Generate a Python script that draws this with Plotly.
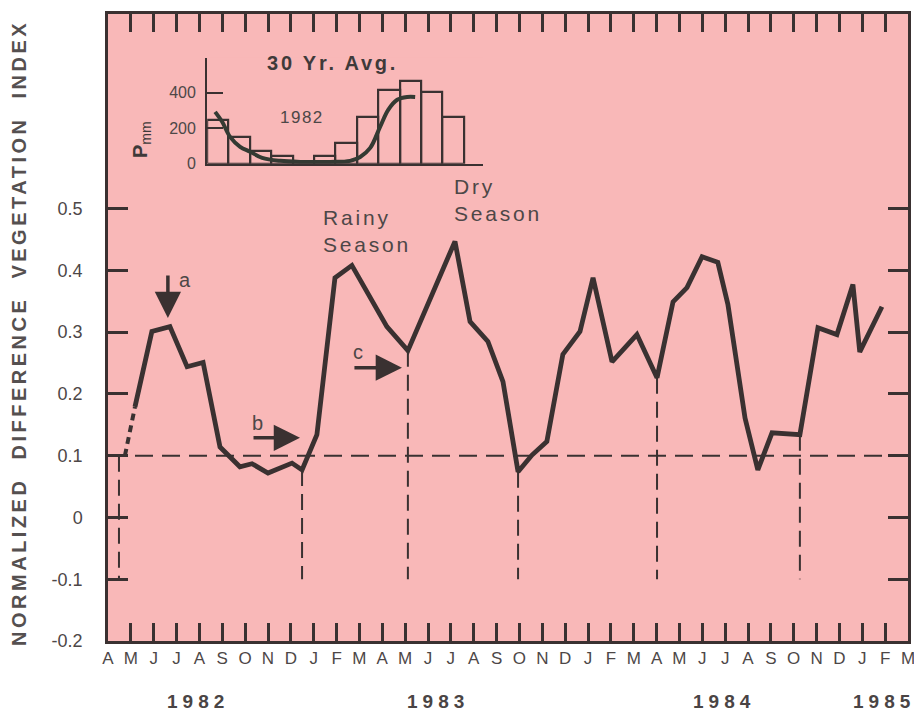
import plotly.graph_objects as go

# ---------------- data ----------------
month_labels = ["A", "M", "J", "J", "A", "S", "O", "N", "D",
                "J", "F", "M", "A", "M", "J", "J", "A", "S", "O", "N", "D",
                "J", "F", "M", "A", "M", "J", "J", "A", "S", "O", "N", "D",
                "J", "F", "M"]
month_pos = list(range(len(month_labels)))          # 0 = April 1982
year_labels = ["1982", "1983", "1984", "1985"]
year_pos = [3.94, 14.44, 26.95, 33.95]

ytick_vals = [-0.2, -0.1, 0, 0.1, 0.2, 0.3, 0.4, 0.5]
ytick_text = ["-0.2", "-0.1", "0", "0.1", "0.2", "0.3", "0.4", "0.5"]

ndvi_months = [1.18, 1.92, 2.71, 3.46, 4.16, 4.90, 5.77, 6.30, 7.00, 8.05,
               8.49, 9.14, 9.93, 10.67, 12.20, 13.12, 15.18, 15.84, 16.62, 17.28,
               17.94, 18.55, 19.20, 19.90, 20.65, 21.22, 22.05, 23.14, 24.02, 24.72,
               25.33, 25.99, 26.68, 27.12, 27.87, 28.43, 29.05, 30.27, 31.06, 31.89,
               32.59, 32.89, 33.86]
ndvi_values = [0.179, 0.301, 0.309, 0.244, 0.251, 0.114, 0.082, 0.087, 0.072, 0.088,
               0.077, 0.134, 0.388, 0.408, 0.309, 0.270, 0.447, 0.317, 0.285, 0.220,
               0.074, 0.101, 0.123, 0.264, 0.301, 0.388, 0.252, 0.296, 0.226, 0.349,
               0.372, 0.422, 0.413, 0.345, 0.161, 0.077, 0.137, 0.134, 0.307, 0.296,
               0.377, 0.268, 0.341]

gap_months = [0.74, 1.18]       # dashed (missing-data) start of the series
gap_values = [0.10, 0.179]

drop_months = [0.48, 8.49, 13.12, 17.94, 24.02, 30.27]
drop_tops = [0.10, 0.077, 0.270, 0.074, 0.226, 0.134]
drop_bottom = -0.1
threshold = 0.1

# inset: 30-yr average monthly precipitation (bars) and 1982 curve
inset_months = [0.5, 1.5, 2.5, 3.5, 4.5, 5.5, 6.5, 7.5, 8.5, 9.5, 10.5, 11.5]
avg_precip = [248, 152, 73, 45, 12, 45, 118, 265, 417, 468, 405, 265]
curve_months = [0.37, 0.70, 1.07, 1.54, 2.01, 2.57, 3.41, 4.35, 5.75, 6.68,
                7.15, 7.62, 8.08, 8.46, 8.88, 9.35, 9.72]
curve_precip = [293, 237, 152, 96, 68, 34, 17, 11, 11, 17,
                39, 90, 208, 304, 361, 377, 377]
inset_ticks = [0, 200, 400]

# ---------------- style ----------------
INK = "#3a3131"
TEXT = "#4d4747"
PINK = "#F9B8B8"
FONT = "Liberation Sans, Arial, Helvetica, sans-serif"


def spaced(t, px):
    return f'<span style="letter-spacing:{px}px">{t}</span>'


fig = go.Figure()

# vertical drop lines
dx, dy = [], []
for m, top in zip(drop_months, drop_tops):
    dx += [m, m, None]
    dy += [top, drop_bottom, None]
fig.add_trace(go.Scatter(x=dx, y=dy, mode="lines",
                         line=dict(color=INK, width=2, dash="16px,8px"),
                         hoverinfo="skip", showlegend=False))

# dashed start
fig.add_trace(go.Scatter(x=gap_months, y=gap_values, mode="lines",
                         line=dict(color=INK, width=4, dash="7px,5px"),
                         showlegend=False))
# main NDVI series
fig.add_trace(go.Scatter(x=ndvi_months, y=ndvi_values, mode="lines",
                         line=dict(color=INK, width=4.8),
                         showlegend=False))

# inset bars
fig.add_trace(go.Bar(x=inset_months, y=avg_precip, width=1.0,
                     marker=dict(color="rgba(0,0,0,0)",
                                 line=dict(color=INK, width=2.2)),
                     xaxis="x2", yaxis="y2", showlegend=False))
# inset 1982 curve
fig.add_trace(go.Scatter(x=curve_months, y=curve_precip, mode="lines",
                         line=dict(color="#343a33", width=4, shape="spline", smoothing=1.0),
                         xaxis="x2", yaxis="y2", showlegend=False))

fig.add_hline(y=threshold, line=dict(color=INK, width=2, dash="18px,9px"), layer="below")

annotations = []
# y-axis title
annotations.append(dict(
    text=spaced("NORMALIZED  DIFFERENCE  VEGETATION  INDEX", 3.5),
    textangle=-90, xref="paper", yref="paper", x=-0.112, y=0.492,
    xanchor="center", yanchor="middle",
    showarrow=False, font=dict(family=FONT, size=20, color="#555050", weight="bold")))
# year labels
for yl, yp in zip(year_labels, year_pos):
    annotations.append(dict(text=spaced(yl, 5), xref="x", yref="paper", x=yp, y=-0.097,
                            xanchor="center", yanchor="middle", showarrow=False,
                            font=dict(family=FONT, size=19, color="#4a4444", weight="bold")))
# season texts
annotations.append(dict(text=spaced("Rainy", 2.8) + "<br>" + spaced("Season", 2.8),
                        xref="x", yref="y", x=9.3, y=0.507, xanchor="left", yanchor="top",
                        align="left", showarrow=False,
                        font=dict(family=FONT, size=21, color=TEXT)))
annotations.append(dict(text=spaced("Dry", 2.8) + "<br>" + spaced("Season", 2.8),
                        xref="x", yref="y", x=15.03, y=0.557, xanchor="left", yanchor="top",
                        align="left", showarrow=False,
                        font=dict(family=FONT, size=21, color=TEXT)))
# arrows a, b, c
arrow_common = dict(showarrow=True, arrowhead=2, arrowsize=1.5, arrowwidth=3.5,
                    arrowcolor=INK, text="", xref="x", yref="y")
annotations.append(dict(x=2.62, y=0.323, ax=0, ay=-44, **arrow_common))
annotations.append(dict(x=8.40, y=0.129, ax=-48, ay=0, **arrow_common))
annotations.append(dict(x=12.86, y=0.2425, ax=-49, ay=0, **arrow_common))
for lab, lx, ly in [("a", 3.37, 0.385), ("b", 6.52, 0.153), ("c", 10.94, 0.268)]:
    annotations.append(dict(text=lab, x=lx, y=ly, xref="x", yref="y", showarrow=False,
                            font=dict(family=FONT, size=20, color=TEXT)))
# inset texts
annotations.append(dict(text=spaced("30 Yr. Avg.", 2.8), xref="paper", yref="paper",
                        x=0.28, y=0.922, xanchor="center", yanchor="middle", showarrow=False,
                        font=dict(family=FONT, size=20, color="#3f3a3a", weight="bold")))
annotations.append(dict(text=spaced("1982", 1.5), xref="x2", yref="y2", x=4.45, y=260,
                        showarrow=False, font=dict(family=FONT, size=17, color=TEXT)))
annotations.append(dict(text="<b>P</b><sub>mm</sub>", textangle=-90, xref="paper", yref="paper",
                        x=0.042, y=0.80, xanchor="center", yanchor="middle", showarrow=False,
                        font=dict(family=FONT, size=20, color="#3f3a3a")))

# The page body adds an 8px offset, so the figure is sized to fit the 922x713 window.
fig.update_layout(
    width=914, height=705,
    margin=dict(l=100, r=14, t=6, b=72, autoexpand=False),
    paper_bgcolor="white", plot_bgcolor=PINK,
    font=dict(family=FONT, color=TEXT),
    bargap=0,
    annotations=annotations,
    xaxis=dict(range=[0, 35], tickvals=month_pos, ticktext=month_labels,
               ticks="inside", ticklen=18, tickwidth=2.5, tickcolor=INK,
               showline=True, linewidth=2.5, linecolor=INK, mirror="ticks",
               showgrid=False, zeroline=False, ticklabelstandoff=0, automargin=False,
               tickfont=dict(family=FONT, size=17, color=TEXT)),
    yaxis=dict(range=[-0.2, 0.815], tickvals=ytick_vals, ticktext=ytick_text,
               ticks="inside", ticklen=20, tickwidth=2.5, tickcolor=INK,
               showline=True, linewidth=2.5, linecolor=INK, mirror="ticks",
               showgrid=False, zeroline=False, ticklabelstandoff=19, automargin=False,
               tickfont=dict(family=FONT, size=18, color=TEXT)),
    xaxis2=dict(domain=[0.124, 0.469], range=[0, 12.9], anchor="y2",
                showline=True, linewidth=2.2, linecolor=INK, showticklabels=False,
                ticks="", showgrid=False, zeroline=False, automargin=False),
    yaxis2=dict(domain=[0.761, 0.930], range=[0, 597], anchor="x2",
                tickvals=inset_ticks, ticks="inside", ticklen=16, tickwidth=2, tickcolor=INK,
                showline=True, linewidth=2.2, linecolor=INK, showgrid=False, zeroline=False,
                ticklabelstandoff=6, automargin=False,
                tickfont=dict(family=FONT, size=16, color=TEXT)),
)

fig.write_html("out.html")
